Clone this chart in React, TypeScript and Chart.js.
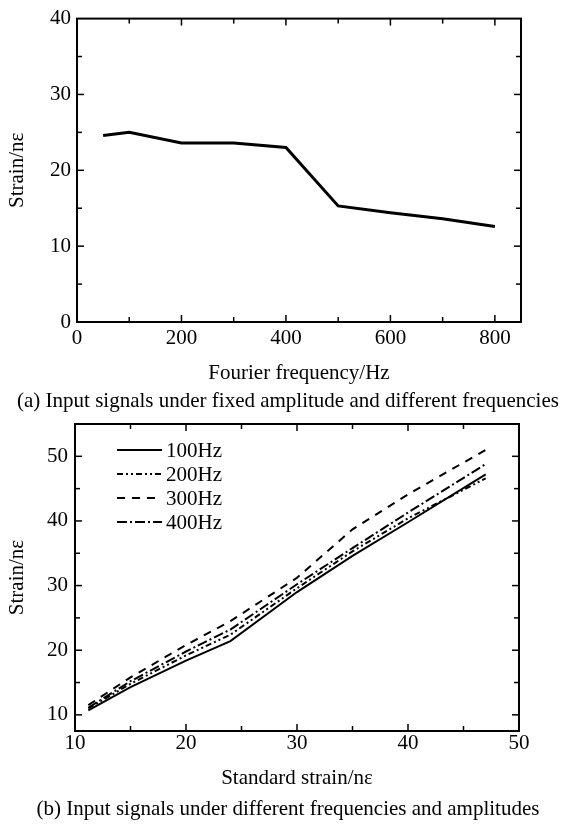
import React, { useEffect, useRef } from "react";
import { Chart, registerables } from "chart.js";

Chart.register(...registerables);

// ---- Data (a) ----
const freqHz = [50, 100, 200, 300, 400, 500, 600, 700, 800];
const strainA = [24.6, 25.0, 23.6, 23.6, 23.0, 15.3, 14.4, 13.6, 12.6];
const xLabelsA = [0, 200, 400, 600, 800];
const yLabelsA = [0, 10, 20, 30, 40];

// ---- Data (b) ----
const standardStrain = [11.2, 15, 20, 24, 30, 35, 40, 47];
const strain100 = [10.7, 14.3, 18.4, 21.4, 29.0, 34.6, 39.8, 47.2];
const strain200 = [11.0, 14.8, 19.2, 22.4, 29.6, 35.3, 40.4, 46.6];
const strain300 = [11.5, 15.8, 20.8, 24.5, 31.2, 38.7, 44.1, 51.0];
const strain400 = [11.1, 15.2, 19.8, 23.2, 30.2, 35.8, 41.3, 48.8];
const seriesLabels = ["100Hz", "200Hz", "300Hz", "400Hz"];
const xLabelsB = [10, 20, 30, 40, 50];
const yLabelsB = [10, 20, 30, 40, 50];

const FONT = '"Liberation Serif", "Times New Roman", serif';

const near = (v: number, step: number) =>
  Math.abs(v / step - Math.round(v / step)) < 1e-6;

const frameTicks = {
  id: "frameTicks",
  afterDraw(chart: any, _args: any, opts: any) {
    const { ctx, chartArea: a, scales } = chart;
    const xs = scales.x;
    const ys = scales.y;
    ctx.save();
    ctx.strokeStyle = "#000";
    ctx.lineWidth = 1.5;
    const seg = (x1: number, y1: number, x2: number, y2: number) => {
      ctx.beginPath();
      ctx.moveTo(x1, y1);
      ctx.lineTo(x2, y2);
      ctx.stroke();
    };
    xs.ticks.forEach((t: any) => {
      const v = t.value;
      if (!near(v, opts.xMinor)) return;
      const p = xs.getPixelForValue(v);
      if (p <= a.left + 1 || p >= a.right - 1) return;
      const L = near(v, opts.xMajor) ? 7 : 5;
      seg(p, a.bottom, p, a.bottom - L);
      seg(p, a.top, p, a.top + L);
    });
    ys.ticks.forEach((t: any) => {
      const v = t.value;
      if (!near(v, opts.yMinor)) return;
      const p = ys.getPixelForValue(v);
      if (p <= a.top + 1 || p >= a.bottom - 1) return;
      const L = near(v, opts.yMajor) ? 7 : 5;
      seg(a.left, p, a.left + L, p);
      seg(a.right, p, a.right - L, p);
    });
    ctx.lineWidth = 2;
    ctx.strokeRect(a.left, a.top, a.right - a.left, a.bottom - a.top);
    ctx.restore();
  },
};

const insideLegend = {
  id: "insideLegend",
  afterDraw(chart: any) {
    const { ctx, chartArea: a } = chart;
    ctx.save();
    ctx.font = `21px ${FONT}`;
    ctx.textBaseline = "middle";
    ctx.fillStyle = "#000";
    ctx.strokeStyle = "#000";
    chart.data.datasets.forEach((ds: any, i: number) => {
      const y = a.top + 26 + i * 24;
      ctx.beginPath();
      ctx.setLineDash(ds.borderDash || []);
      ctx.lineWidth = ds.borderWidth;
      ctx.moveTo(a.left + 42, y);
      ctx.lineTo(a.left + 87, y);
      ctx.stroke();
      ctx.setLineDash([]);
      ctx.fillText(ds.label, a.left + 91, y + 1);
    });
    ctx.restore();
  },
};

function axisCommon(
  min: number,
  max: number,
  step: number,
  labels: number[],
  padding: number,
  title: string,
  titlePad: any
) {
  return {
    type: "linear" as const,
    min,
    max,
    grid: { display: false, drawTicks: false },
    border: { display: false },
    ticks: {
      stepSize: step,
      includeBounds: false,
      autoSkip: false,
      maxRotation: 0,
      padding,
      color: "#000",
      font: { family: FONT, size: 21 },
      callback: (v: any) => (labels.includes(Number(v)) ? String(v) : ""),
    },
    title: {
      display: true,
      text: title,
      color: "#000",
      font: { family: FONT, size: 21 },
      padding: titlePad,
    },
  };
}

export default function App() {
  const ref1 = useRef<HTMLCanvasElement>(null);
  const ref2 = useRef<HTMLCanvasElement>(null);

  useEffect(() => {
    const c1 = new Chart(ref1.current as HTMLCanvasElement, {
      type: "line",
      data: {
        datasets: [
          {
            label: "Strain",
            data: freqHz.map((x, i) => ({ x, y: strainA[i] })),
            borderColor: "#000",
            borderWidth: 3,
            pointRadius: 0,
            tension: 0,
            fill: false,
          },
        ],
      },
      options: {
        responsive: false,
        animation: false,
        layout: { padding: { left: 0, top: 16, right: 47, bottom: 0 } },
        plugins: {
          legend: { display: false },
          tooltip: { enabled: false },
          frameTicks: { xMajor: 200, xMinor: 100, yMajor: 10, yMinor: 5 },
        } as any,
        scales: {
          x: {
            ...axisCommon(0, 850, 100, xLabelsA, 4, "Fourier frequency/Hz", { top: 0, bottom: 4 }),
            afterFit: (s: any) => {
              s.height = 68;
            },
          },
          y: {
            ...axisCommon(0, 40, 5, yLabelsA, 6, "Strain/nε", { top: 5, bottom: 0 }),
            afterFit: (s: any) => {
              s.width = 77;
            },
          },
        } as any,
      },
      plugins: [frameTicks],
    });

    const styles = [
      { data: strain100, dash: [] as number[] },
      { data: strain200, dash: [6, 3, 2, 3, 2, 3] },
      { data: strain300, dash: [8, 7] },
      { data: strain400, dash: [10, 3, 2, 3] },
    ];

    const c2 = new Chart(ref2.current as HTMLCanvasElement, {
      type: "line",
      data: {
        datasets: styles.map((s, k) => ({
          label: seriesLabels[k],
          data: standardStrain.map((x, i) => ({ x, y: s.data[i] })),
          borderColor: "#000",
          borderWidth: 2,
          borderDash: s.dash,
          pointRadius: 0,
          tension: 0,
          fill: false,
        })),
      },
      options: {
        responsive: false,
        animation: false,
        layout: { padding: { left: 0, top: 29, right: 49, bottom: 0 } },
        plugins: {
          legend: { display: false },
          tooltip: { enabled: false },
          frameTicks: { xMajor: 10, xMinor: 5, yMajor: 10, yMinor: 5 },
        } as any,
        scales: {
          x: {
            ...axisCommon(10, 50, 5, xLabelsB, 0, "Standard strain/nε", { top: 0, bottom: 4 }),
            afterFit: (s: any) => {
              s.height = 64;
            },
          },
          y: {
            ...axisCommon(7.5, 55, 5, yLabelsB, 7, "Strain/nε", { top: 5, bottom: 0 }),
            afterFit: (s: any) => {
              s.width = 75;
            },
          },
        } as any,
      },
      plugins: [frameTicks, insideLegend],
    });

    return () => {
      c1.destroy();
      c2.destroy();
    };
  }, []);

  const caption: React.CSSProperties = {
    position: "absolute",
    left: 4,
    width: 568,
    textAlign: "center",
    fontFamily: FONT,
    fontSize: 21,
    lineHeight: "26px",
    whiteSpace: "nowrap",
    color: "#000",
  };

  return (
    <div
      style={{
        position: "absolute",
        left: 0,
        top: 0,
        width: 568,
        height: 826,
        background: "#fff",
        overflow: "hidden",
      }}
    >
      <canvas
        ref={ref1}
        width={568}
        height={390}
        style={{ position: "absolute", left: 0, top: 0, width: 568, height: 390 }}
      />
      <div style={{ ...caption, top: 387 }}>
        (a) Input signals under fixed amplitude and different frequencies
      </div>
      <canvas
        ref={ref2}
        width={568}
        height={400}
        style={{ position: "absolute", left: 0, top: 395, width: 568, height: 400 }}
      />
      <div style={{ ...caption, top: 795 }}>
        (b) Input signals under different frequencies and amplitudes
      </div>
    </div>
  );
}
